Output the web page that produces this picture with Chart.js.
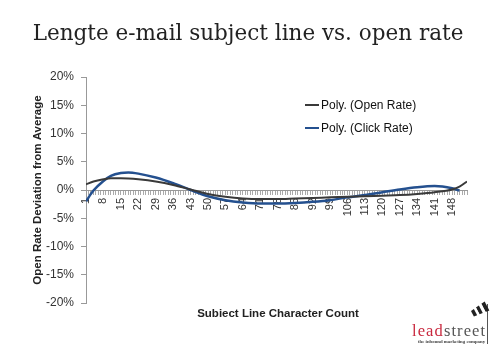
<!DOCTYPE html>
<html>
<head>
<meta charset="utf-8">
<script src="https://cdn.jsdelivr.net/npm/chart.js@4/dist/chart.umd.min.js"></script>
<style>
  html, body { margin: 0; padding: 0; background: #fff; }
  #wrap { position: relative; width: 500px; height: 350px; overflow: hidden; font-family: "Liberation Sans", Arial, sans-serif; }
  #chart { position: absolute; left: 0; top: 0; }
  #title { position: absolute; left: 0; width: 496px; top: 20px; text-align: center; font: 21.5px "DejaVu Serif", serif; color: #222; white-space: nowrap; }
  #legend { position: absolute; left: 305px; top: 93px; font-size: 12px; color: #111; }
  #legend .item { display: flex; align-items: center; height: 23px; }
  #legend .swatch { width: 14px; height: 2px; margin-right: 2px; }
  #xtitle { position: absolute; left: 0; width: 556px; top: 307px; text-align: center; font-weight: bold; font-size: 11.5px; color: #222; }
  #logo { position: absolute; left: 405px; top: 280px; width: 95px; height: 70px; }
  #logo .word { position: absolute; left: 7px; top: 42px; font: 16.5px "Liberation Serif", serif; letter-spacing: 1.1px; white-space: nowrap; line-height: 18px; }
  #logo .lead { color: #c9283e; }
  #logo .street { color: #555; }
  #logo .tag { position: absolute; left: 13px; top: 59px; font: bold 4.8px "Liberation Serif", serif; color: #444; white-space: nowrap; }
</style>
</head>
<body>
<div id="wrap">
  <canvas id="chart" width="500" height="350"></canvas>
  <div id="title">Lengte e-mail subject line vs. open rate</div>
  <div id="legend"></div>
  <div id="xtitle">Subiect Line Character Count</div>
  <div id="logo">
    <svg width="95" height="70" style="position:absolute;left:0;top:0">
      <line x1="82.5" y1="24" x2="82.5" y2="64" stroke="#555" stroke-width="1"/>
      <g transform="translate(82,26) rotate(152)">
        <polygon points="0,-5 4,-4.6 4,4.6 0,5" fill="#222"/>
        <polygon points="4,-4.6 7,-4.2 7,4.2 4,4.6" fill="#fff"/>
        <polygon points="7,-4.2 10.5,-3.8 10.5,3.8 7,4.2" fill="#222"/>
        <polygon points="10.5,-3.8 13,-3.5 13,3.5 10.5,3.8" fill="#fff"/>
        <polygon points="13,-3.5 16.5,-3.1 16.5,3.1 13,3.5" fill="#222"/>
      </g>
    </svg>
    <div class="word"><span class="lead">lead</span><span class="street">street</span></div>
    <div class="tag">the inbound marketing company</div>
  </div>
</div>
<script>
// subject line length (characters) where the trend lines were read
const charCount = [1, 4, 8, 11, 15, 18, 22, 29, 36, 43, 50, 57, 64, 71, 78, 85, 92, 99, 106, 113, 120, 127, 134, 141, 148, 151, 154];

// deviation from average, in percent
const openRate = [1.0, 1.5, 1.9, 2.1, 2.1, 2.05, 1.9, 1.5, 0.9, 0.1, -0.7, -1.2, -1.5, -1.6, -1.6, -1.5, -1.4, -1.3, -1.2, -1.1, -1.0, -0.9, -0.7, -0.4, 0.1, 0.6, 1.5];
const clickRate = [-2.0, -0.1, 1.6, 2.5, 3.0, 3.1, 2.9, 2.2, 1.2, 0.0, -1.1, -1.8, -2.2, -2.4, -2.4, -2.3, -2.1, -1.8, -1.3, -0.9, -0.4, 0.1, 0.5, 0.7, 0.3, -0.1, null];

const seriesNames = ['Poly. (Open Rate)', 'Poly. (Click Rate)'];
const seriesColors = ['#3a3a3a', '#24508f'];

const yMin = -20;
const yMax = 20;
const yStep = 5;
const xMin = 1;
const xMax = 154;
const labelEvery = 7;

function toPoints(values) {
  return charCount.map((x, i) => ({ x, y: values[i] }));
}

const chart = new Chart(document.getElementById('chart'), {
  type: 'line',
  data: {
    datasets: [
      { label: seriesNames[0], data: toPoints(openRate), borderColor: seriesColors[0], borderWidth: 2 },
      { label: seriesNames[1], data: toPoints(clickRate), borderColor: seriesColors[1], borderWidth: 2.5 },
    ].map(d => Object.assign(d, { pointRadius: 0, fill: false, cubicInterpolationMode: 'monotone', spanGaps: false }))
  },
  options: {
    responsive: false,
    animation: false,
    layout: { padding: { left: 27, top: 77, right: 33, bottom: 47 } },
    plugins: { legend: { display: false }, tooltip: { enabled: false } },
    scales: {
      x: {
        type: 'linear',
        position: { y: 0 },
        min: xMin,
        max: xMax,
        afterFit: s => { s.height = 0; },
        border: { color: '#999', width: 1 },
        grid: { drawOnChartArea: false, drawTicks: true, tickLength: 4, color: '#aaa' },
        ticks: {
          stepSize: 1,
          maxTicksLimit: 500,
          autoSkip: false,
          minRotation: 90,
          maxRotation: 90,
          padding: 4,
          color: '#333',
          font: { family: '"Liberation Sans", Arial, sans-serif', size: 11 },
          callback: v => ((v - xMin) % labelEvery === 0 ? String(v) : '')
        }
      },
      y: {
        min: yMin,
        max: yMax,
        afterFit: s => { s.width = 59; },
        border: { color: '#999', width: 1 },
        grid: { drawOnChartArea: false, drawTicks: true, tickLength: 5, color: '#999' },
        ticks: {
          stepSize: yStep,
          padding: 7,
          color: '#333',
          font: { family: '"Liberation Sans", Arial, sans-serif', size: 12 },
          callback: v => v + '%'
        },
        title: {
          display: true,
          text: 'Open Rate Deviation from Average',
          color: '#222',
          font: { family: '"Liberation Sans", Arial, sans-serif', size: 11.5, weight: 'bold' },
          padding: { top: 4, bottom: 4 }
        }
      }
    }
  }
});

// legend built from the datasets
document.getElementById('legend').innerHTML = chart.data.datasets.map(d => `
  <div class="item"><span class="swatch" style="background:${d.borderColor}"></span>${d.label}</div>
`).join('');
</script>
</body>
</html>
